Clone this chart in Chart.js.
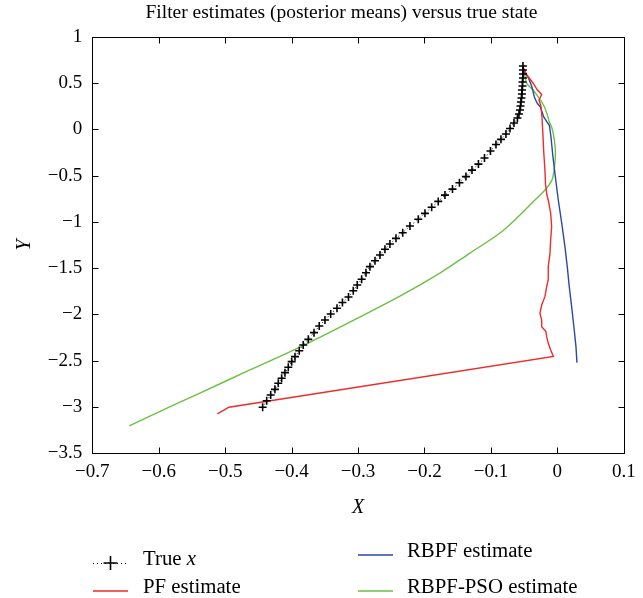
<!DOCTYPE html>
<html>
<head>
<meta charset="utf-8">
<script src="https://cdn.jsdelivr.net/npm/chart.js@4.4.1/dist/chart.umd.min.js"></script>
<style>
  html, body { margin: 0; padding: 0; background: #fff; }
  #wrap { width: 643px; height: 598px; }
</style>
</head>
<body>
<div id="wrap"><canvas id="chart" width="643" height="598"></canvas></div>
<script>
// true state
var trueXs = [-0.0518, -0.0518, -0.0518, -0.0518, -0.0525, -0.0525, -0.0533, -0.0533, -0.0540, -0.0548,
    -0.0555, -0.0563, -0.0578, -0.0601, -0.0653, -0.0713, -0.0774, -0.0849, -0.0924, -0.1007,
    -0.1097, -0.1188, -0.1285, -0.1376, -0.1474, -0.1579, -0.1692, -0.1793, -0.1892, -0.1993,
    -0.2093, -0.2219, -0.2328, -0.2429, -0.2520, -0.2595, -0.2670, -0.2745, -0.2821, -0.2881,
    -0.2946, -0.3012, -0.3072, -0.3144, -0.3235, -0.3317, -0.3412, -0.3498, -0.3584, -0.3663,
    -0.3749, -0.3825, -0.3885, -0.3949, -0.3999, -0.4050, -0.4100, -0.4150, -0.4201, -0.4251,
    -0.4315, -0.4375, -0.4436];
var trueYs = [0.684, 0.640, 0.597, 0.554, 0.511, 0.467, 0.424, 0.381, 0.338, 0.295,
    0.251, 0.208, 0.165, 0.122, 0.068, 0.008, -0.051, -0.109, -0.165, -0.235,
    -0.311, -0.376, -0.441, -0.511, -0.578, -0.646, -0.711, -0.779, -0.843, -0.908,
    -0.972, -1.045, -1.117, -1.178, -1.239, -1.296, -1.358, -1.420, -1.484, -1.549,
    -1.620, -1.682, -1.744, -1.812, -1.871, -1.934, -1.995, -2.060, -2.125, -2.197,
    -2.269, -2.330, -2.392, -2.456, -2.510, -2.571, -2.629, -2.690, -2.744, -2.809,
    -2.870, -2.932, -3.003];

// PF estimate
var pfXs = [-0.0510, -0.0458, -0.0367, -0.0300, -0.0236, -0.0277, -0.0247, -0.0232, -0.0217, -0.0206,
    -0.0187, -0.0179, -0.0157, -0.0137, -0.0101, -0.0086, -0.0101, -0.0111, -0.0137, -0.0137,
    -0.0161, -0.0187, -0.0236, -0.0262, -0.0236, -0.0236, -0.0172, -0.0161, -0.0137, -0.0101,
    -0.0059, -0.4943, -0.5117];
var pfYs = [0.662, 0.586, 0.500, 0.424, 0.376, 0.316, 0.251, 0.133, -0.062, -0.235,
    -0.440, -0.591, -0.710, -0.764, -0.904, -1.052, -1.196, -1.340, -1.484, -1.628,
    -1.700, -1.808, -1.898, -1.988, -2.060, -2.132, -2.186, -2.240, -2.312, -2.384,
    -2.454, -3.002, -3.075];

// RBPF estimate
var rbpfXs = [-0.0518, -0.0488, -0.0432, -0.0382, -0.0346, -0.0307, -0.0256, -0.0205, -0.0157, -0.0119,
    -0.0096, -0.0066, -0.0029, 0.0014, 0.0065, 0.0114, 0.0149, 0.0179, 0.0215, 0.0254,
    0.0280, 0.0295];
var rbpfYs = [0.673, 0.608, 0.549, 0.457, 0.349, 0.284, 0.241, 0.133, 0.079, 0.041,
    -0.083, -0.299, -0.521, -0.764, -1.012, -1.268, -1.484, -1.700, -1.916, -2.168,
    -2.348, -2.521];

// RBPF-PSO estimate
var psoXs = [-0.0518, -0.0488, -0.0458, -0.0360, -0.0281, -0.0209, -0.0157, -0.0122, -0.0081, -0.0044,
    -0.0029, -0.0044, -0.0081, -0.0187, -0.0337, -0.0563, -0.0864, -0.1315, -0.1768, -0.2370,
    -0.3123, -0.3875, -0.4628, -0.5380, -0.5981, -0.6443];
var psoYs = [0.651, 0.576, 0.494, 0.419, 0.343, 0.262, 0.170, 0.082, 0.014, -0.122,
    -0.267, -0.413, -0.548, -0.656, -0.764, -0.926, -1.121, -1.337, -1.553, -1.801,
    -2.082, -2.352, -2.600, -2.849, -3.048, -3.205];

var seriesNames = ['True x', 'PF estimate', 'RBPF estimate', 'RBPF-PSO estimate'];
var chartTitle = 'Filter estimates (posterior means) versus true state';
var xTickStep = 0.1;
var yTickStep = 0.5;

function pts(xs, ys) {
    return xs.map(function (x, i) { return { x: x, y: ys[i] }; });
}

function minusFmt(v) {
    var r = Math.round(v * 10) / 10;
    return String(r).replace('-', '\u2212');
}

var serif = 'Liberation Serif, Times New Roman, serif';
var colTrue = '#000000';
var colPf = '#ef2b2b';
var colRbpf = '#2a48a8';
var colPso = '#6cc043';

// title sits a bit right of the canvas centre, as in the original
var titlePlugin = {
    id: 'title2',
    afterDraw: function (chart) {
        var ctx = chart.ctx;
        ctx.save();
        ctx.font = '19.5px ' + serif;
        ctx.fillStyle = '#000';
        ctx.textAlign = 'center';
        ctx.textBaseline = 'middle';
        ctx.fillText(chartTitle, 341.5, 13);
        ctx.restore();
    }
};

// box with inward ticks on all four sides
var framePlugin = {
    id: 'frame',
    afterDraw: function (chart) {
        var ctx = chart.ctx;
        var a = chart.chartArea;
        var xs = chart.scales.x, ys = chart.scales.y;
        var L = Math.round(a.left) + 0.5, R = Math.round(a.right) + 0.5;
        var T = Math.round(a.top) + 0.5, B = Math.round(a.bottom) + 0.5;
        var tl = 6;
        ctx.save();
        ctx.strokeStyle = '#000';
        ctx.lineWidth = 1;
        ctx.strokeRect(L, T, R - L, B - T);
        ctx.beginPath();
        xs.ticks.forEach(function (t) {
            var p = Math.round(xs.getPixelForValue(t.value)) + 0.5;
            ctx.moveTo(p, B); ctx.lineTo(p, B - tl);
            ctx.moveTo(p, T); ctx.lineTo(p, T + tl);
        });
        ys.ticks.forEach(function (t) {
            var p = Math.round(ys.getPixelForValue(t.value)) + 0.5;
            ctx.moveTo(L, p); ctx.lineTo(L + tl, p);
            ctx.moveTo(R, p); ctx.lineTo(R - tl, p);
        });
        ctx.stroke();
        ctx.restore();
    }
};

// two-column legend below the axes
var legendPlugin = {
    id: 'legend2',
    afterDraw: function (chart) {
        var ctx = chart.ctx;
        var items = [
            { ds: 0, x: 93, y: 563, tx: 143 },
            { ds: 1, x: 93, y: 591, tx: 143 },
            { ds: 2, x: 358, y: 555, tx: 407 },
            { ds: 3, x: 358, y: 591, tx: 407 }
        ];
        var f = '20.8px ' + serif;
        ctx.save();
        ctx.font = f;
        ctx.textBaseline = 'middle';
        ctx.fillStyle = '#000';
        items.forEach(function (it) {
            var ds = chart.data.datasets[it.ds];
            ctx.strokeStyle = ds.borderColor;
            ctx.lineWidth = 1.5;
            if (it.ds === 0) {
                ctx.lineWidth = 1;
                ctx.setLineDash([1, 3]);
                ctx.beginPath(); ctx.moveTo(it.x, it.y + 0.5); ctx.lineTo(it.x + 35, it.y + 0.5); ctx.stroke();
                ctx.setLineDash([]);
                ctx.lineWidth = 1.6;
                ctx.beginPath();
                ctx.moveTo(it.x + 17.5, it.y - 7); ctx.lineTo(it.x + 17.5, it.y + 7);
                ctx.moveTo(it.x + 10.5, it.y); ctx.lineTo(it.x + 24.5, it.y);
                ctx.stroke();
                ctx.fillText('True ', it.tx, it.y - 3);
                var w = ctx.measureText('True ').width;
                ctx.font = 'italic ' + f;
                ctx.fillText('x', it.tx + w, it.y - 3);
                ctx.font = f;
            } else {
                ctx.beginPath(); ctx.moveTo(it.x, it.y); ctx.lineTo(it.x + 35, it.y); ctx.stroke();
                ctx.fillText(seriesNames[it.ds], it.tx, it.y - 3);
            }
        });
        ctx.restore();
    }
};

new Chart(document.getElementById('chart'), {
    type: 'scatter',
    data: {
        datasets: [
            {
                label: seriesNames[0],
                data: pts(trueXs, trueYs),
                showLine: true,
                borderColor: colTrue,
                borderWidth: 1,
                borderDash: [1, 3],
                pointStyle: 'cross',
                pointRadius: 4,
                pointBorderWidth: 1.6,
                pointBorderColor: colTrue,
                pointBackgroundColor: colTrue
            },
            {
                label: seriesNames[1],
                data: pts(pfXs, pfYs),
                showLine: true,
                borderColor: colPf,
                borderWidth: 1.4,
                pointRadius: 0
            },
            {
                label: seriesNames[2],
                data: pts(rbpfXs, rbpfYs),
                showLine: true,
                borderColor: colRbpf,
                borderWidth: 1.4,
                pointRadius: 0
            },
            {
                label: seriesNames[3],
                data: pts(psoXs, psoYs),
                showLine: true,
                borderColor: colPso,
                borderWidth: 1.4,
                tension: 0.3,
                pointRadius: 0
            }
        ]
    },
    options: {
        responsive: false,
        animation: false,
        devicePixelRatio: 1,
        events: [],
        layout: { padding: { left: 0, right: 19.2, top: 36.7, bottom: 74.7 } },
        plugins: {
            legend: { display: false },
            tooltip: { enabled: false },
            title: { display: false }
        },
        scales: {
            x: {
                type: 'linear',
                min: -0.7,
                max: 0.1,
                ticks: {
                    stepSize: xTickStep,
                    color: '#000',
                    font: { family: serif, size: 19 },
                    padding: 7,
                    maxRotation: 0,
                    callback: function (v) { return minusFmt(v); }
                },
                grid: { display: false, drawTicks: false },
                border: { display: false },
                title: {
                    display: true,
                    text: 'X',
                    color: '#000',
                    font: { family: serif, size: 20, style: 'italic' },
                    padding: { top: 0, bottom: 4 }
                },
                afterFit: function (s) { s.height = 70; }
            },
            y: {
                type: 'linear',
                min: -3.5,
                max: 1,
                ticks: {
                    stepSize: yTickStep,
                    color: '#000',
                    font: { family: serif, size: 19 },
                    padding: 10,
                    callback: function (v) { return minusFmt(v); }
                },
                grid: { display: false, drawTicks: false },
                border: { display: false },
                title: {
                    display: true,
                    text: 'Y',
                    color: '#000',
                    font: { family: serif, size: 20, style: 'italic' },
                    padding: { top: 13, bottom: 0 }
                },
                afterFit: function (s) { s.width = 92.3; }
            }
        }
    },
    plugins: [titlePlugin, framePlugin, legendPlugin]
});
</script>
</body>
</html>
